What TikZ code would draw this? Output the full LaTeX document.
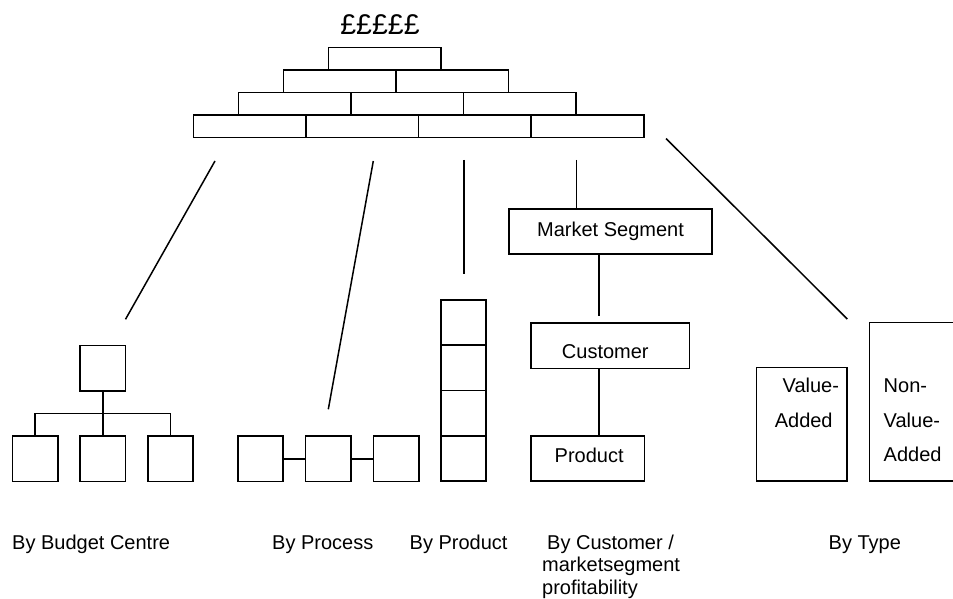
\documentclass[tikz,border=0pt]{standalone}
\usepackage{fontspec}
\setmainfont{Liberation Sans}
\begin{document}
\begin{tikzpicture}[x=1pt,y=-1pt,
  box/.style={draw,line width=1.6pt,inner sep=0pt,outer sep=0pt,anchor=north west},
  brick/.style={box,minimum width=112.6pt,minimum height=22.5pt},
  sq/.style={box,minimum width=45.5pt,minimum height=45.5pt},
  cell/.style={box,minimum width=45pt,minimum height=45.25pt},
  link/.style={line width=1.5pt},
  lbl/.style={inner sep=0pt,anchor=base west,font=\fontsize{20}{24}\selectfont},
  lblc/.style={lbl,anchor=base}]
\useasboundingbox (0,0) rectangle (953,599);
\clip (0,0) rectangle (953,599);

% money pyramid
\node[lblc,font=\fontsize{28.5}{32}\selectfont] (money) at (380,34.3) {£££££};
\node[brick] (b11) at (328.3,47.5) {};
\node[brick] (b21) at (283.3,70) {};
\node[brick] (b22) at (395.9,70) {};
\node[brick] (b31) at (238.3,92.5) {};
\node[brick] (b32) at (350.9,92.5) {};
\node[brick] (b33) at (463.5,92.5) {};
\node[brick] (b41) at (193.3,115) {};
\node[brick] (b42) at (305.9,115) {};
\node[brick] (b43) at (418.5,115) {};
\node[brick] (b44) at (531.1,115) {};

% branches down from the pyramid
\coordinate (c1a) at (215,161);   \coordinate (c1b) at (125.5,319.3);
\coordinate (c2a) at (373.3,161); \coordinate (c2b) at (328.3,409.3);
\coordinate (c3a) at (464,160);   \coordinate (c3b) at (464,274);
\coordinate (c4a) at (576.5,160);
\coordinate (c5a) at (666,138.5); \coordinate (c5b) at (847.3,319);

% by budget centre: an org chart
\node[sq] (bc)  at (80,345.5) {};
\node[sq] (bc1) at (12.3,436) {};
\node[sq] (bc2) at (80,436) {};
\node[sq] (bc3) at (147.7,436) {};
\coordinate (bar) at (0,413.3);
\draw[link] (bc.south) -- (bc2.north);
\draw[link] (bc1.north) -- (bc1.north |- bar) -- (bc3.north |- bar) -- (bc3.north);

% by process: a chain
\node[sq] (p1) at (237.7,436) {};
\node[sq] (p2) at (305.5,436) {};
\node[sq] (p3) at (373.3,436) {};
\draw[link] (p1.east) -- (p2.west);
\draw[link] (p2.east) -- (p3.west);

% by product: a stack
\node[cell] (pr1) at (441,300) {};
\node[cell] (pr2) at (441,345.25) {};
\node[cell] (pr3) at (441,390.5) {};
\node[cell] (pr4) at (441,435.75) {};

% by customer / market segment
\node[box,minimum width=203pt,minimum height=45pt] (ms) at (508.7,209) {};
\node[box,minimum width=158.3pt,minimum height=45.6pt] (cu) at (531,322.7) {};
\node[box,minimum width=113.3pt,minimum height=45pt] (pd) at (531,436) {};
\node[lblc] (mst) at (610.5,236.7) {Market Segment};
\node[lblc] (cut) at (605.3,358.3) {Customer};
\node[lblc] (pdt) at (589.2,462.7) {Product};
\coordinate (msend) at (599,315.7);
\draw[link] (ms.south -| msend) -- (msend);
\draw[link] (cu.south -| msend) -- (pd.north -| msend);

% by type
\node[box,minimum width=90.6pt,minimum height=113.2pt] (va) at (756.6,367.6) {};
\node[box,minimum width=120pt,minimum height=158.2pt] (nva) at (869.3,322.6) {};
\node[lblc] (va1) at (810.8,392.7) {Value-};
\node[lblc] (va2) at (803.7,427.3) {Added};
\node[lbl] (nva1) at (883.5,392.7) {Non-};
\node[lbl] (nva2) at (883.5,427.3) {Value-};
\node[lbl] (nva3) at (883.5,461.7) {Added};

% connectors
\draw[link] (c1a) -- (c1b);
\draw[link] (c2a) -- (c2b);
\draw[link] (c3a) -- (c3b);
\draw[link] (c4a) -- (c4a |- ms.north);
\draw[link] (c5a) -- (c5b);

% captions
\node[lbl] (cap1) at (12,549) {By Budget Centre};
\node[lbl] (cap2) at (272,549) {By Process};
\node[lbl] (cap3) at (409.5,549) {By Product};
\node[lbl] (cap4a) at (547,549.3) {By Customer /};
\node[lbl] (cap4b) at (542,571.7) {marketsegment};
\node[lbl] (cap4c) at (542,594) {profitability};
\node[lbl] (cap5) at (828.5,549) {By Type};
\end{tikzpicture}
\end{document}
